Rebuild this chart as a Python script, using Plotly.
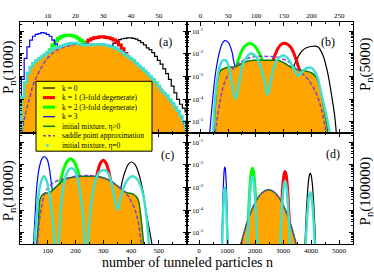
import plotly.graph_objects as go

FONT = "Liberation Serif"

# ---------------- data: log10 of P_n ----------------
# (a) P_n(1000), discrete n (step curves)
a_eta_n = list(range(0, 61))
a_eta_log10p = [-5.33, -3.90, -3.26, -2.84, -2.59, -2.42, -2.29, -2.21, -2.12, -2.04,
                -1.95, -1.87, -1.78, -1.74, -1.70, -1.66, -1.61, -1.57, -1.55, -1.53,
                -1.53, -1.57, -1.59, -1.61, -1.63, -1.61, -1.61, -1.59, -1.59, -1.59,
                -1.59, -1.61, -1.66, -1.70, -1.74, -1.78, -1.87, -1.95, -2.04, -2.12,
                -2.21, -2.29, -2.42, -2.54, -2.63, -2.75, -2.88, -3.01, -3.13, -3.26,
                -3.43, -3.60, -3.73, -3.85, -4.02, -4.19, -4.36, -4.53, -4.74, -4.99, -5.33]
a_k0_n = list(range(24, 61))
a_k0_log10p = [-4.32, -3.90, -3.47, -3.13, -2.84, -2.54, -2.29, -2.04, -1.82, -1.66,
               -1.53, -1.44, -1.38, -1.34, -1.32, -1.30, -1.30, -1.32, -1.36, -1.42,
               -1.51, -1.61, -1.74, -1.82, -1.95, -2.12, -2.29, -2.46, -2.67, -2.88,
               -3.13, -3.43, -3.73, -4.02, -4.23, -4.40, -4.57]
a_k1_n = list(range(14, 48))
a_k1_log10p = [-6.0, -4.82, -4.23, -3.73, -3.26, -2.84, -2.46, -2.12, -1.87, -1.66,
               -1.49, -1.40, -1.34, -1.30, -1.28, -1.25, -1.25, -1.28, -1.30, -1.34,
               -1.40, -1.49, -1.61, -1.78, -1.99, -2.25, -2.54, -2.88, -3.26, -3.68,
               -4.15, -4.66, -5.25, -6.0]
a_k2_n = list(range(5, 35))
a_k2_log10p = [-4.74, -4.11, -3.47, -2.88, -2.42, -2.08, -1.82, -1.61, -1.44, -1.32,
               -1.25, -1.21, -1.19, -1.19, -1.21, -1.25, -1.32, -1.42, -1.53, -1.68,
               -1.87, -2.08, -2.33, -2.63, -2.97, -3.35, -3.77, -4.23, -4.74, -5.33]
a_k3_n = list(range(0, 26))
a_k3_log10p = [-6.0, -3.13, -2.21, -1.70, -1.40, -1.23, -1.15, -1.11, -1.07, -1.09,
               -1.15, -1.23, -1.40, -1.57, -1.82, -2.08, -2.37, -2.67, -2.97, -3.26,
               -3.60, -3.94, -4.32, -4.74, -5.25, -6.0]
a_sp_n = [0.7, 1.8, 3.6, 4.7, 6.2, 8.0, 9.8, 11.6, 13.5, 17.1, 20.7, 24.4, 28.0, 31.6,
          35.3, 38.9, 42.5, 46.2, 49.8, 53.5, 57.1, 58.9, 59.6]
a_sp_log10p = [-5.46, -4.74, -3.90, -3.39, -2.97, -2.54, -2.21, -1.99, -1.82, -1.66, -1.57,
               -1.57, -1.57, -1.61, -1.78, -2.08, -2.46, -2.88, -3.39, -3.94, -4.53, -5.08, -5.46]

# (b) P_n(5000)
b_k0_n = [150, 160, 167, 173, 182, 191, 203, 212, 221, 230, 236, 242, 245, 248]
b_k0_log10p = [-4.11, -3.13, -2.63, -2.29, -1.91, -1.74, -1.67, -1.70, -2.08, -2.92, -3.77, -4.74, -5.50, -6.2]
b_k1_n = [115, 122, 128, 133, 139, 145, 151, 157, 163, 168, 173, 179, 186, 193]
b_k1_log10p = [-3.70, -3.05, -2.55, -2.15, -1.80, -1.60, -1.54, -1.58, -1.72, -1.95, -2.30, -2.75, -3.40, -4.20]
b_k2_n = [50, 55, 60, 65, 70, 76, 82, 89, 96, 102, 108, 114, 120, 126, 132]
b_k2_log10p = [-4.00, -3.50, -3.00, -2.55, -2.15, -1.80, -1.62, -1.55, -1.62, -1.80, -2.08, -2.48, -2.97, -3.57, -4.28]
b_k3_n = [15, 16.8, 21, 27, 33, 39, 44, 50, 57, 60, 63.5, 68, 73, 78, 82]
b_k3_log10p = [-6.0, -5.50, -4.32, -2.91, -2.07, -1.57, -1.42, -1.49, -1.92, -2.33, -2.70, -3.26, -4.11, -5.16, -6.0]
b_eta_n = [23, 24, 27, 30, 36, 45, 57, 66.5, 75.5, 84.6, 97, 109, 121, 133, 145, 157, 166.5,
           176, 188, 200, 209, 215, 221, 227, 230, 231]
b_eta_log10p = [-6.0, -5.50, -4.32, -3.35, -2.75, -2.63, -2.59, -2.54, -2.42, -2.33, -2.29, -2.29,
                -2.29, -2.29, -2.33, -2.50, -2.63, -2.71, -2.75, -2.84, -3.05, -3.47, -4.19,
                -5.03, -5.50, -6.0]
b_sp_n = [25, 27, 36, 45, 57, 69.5, 84.6, 103, 121, 139, 157, 176, 194, 209, 218, 224, 227, 229]
b_sp_log10p = [-6.0, -5.50, -4.02, -3.18, -2.71, -2.42, -2.21, -2.12, -2.12, -2.16, -2.33, -2.71,
               -3.13, -3.77, -4.44, -5.16, -5.50, -6.0]
b_eta0_n = [22, 22.9, 27, 33, 39, 45, 51, 57, 63.5, 69.5, 75.5, 81.7, 90.8, 100, 106, 115, 121,
            127, 133, 142, 151, 160, 170, 176, 182, 191, 200, 209, 218, 227, 233, 235]
b_eta0_log10p = [-6.0, -5.50, -3.90, -2.75, -2.33, -2.29, -2.54, -3.35, -3.98, -3.35, -2.54, -2.21,
                 -1.99, -2.12, -2.42, -3.13, -3.81, -3.18, -2.54, -2.16, -2.08, -2.29, -2.75, -2.97,
                 -2.84, -2.63, -2.63, -2.92, -3.77, -4.74, -5.50, -6.0]

# (c) P_n(10000)
c_k0_n = [330, 338, 354, 370, 378, 390, 402, 414, 426, 442, 454.5, 466.7, 475, 482]
c_k0_log10p = [-5.82, -4.99, -3.63, -2.66, -2.32, -1.99, -1.88, -1.99, -2.32, -3.10, -4.06, -4.91, -5.47, -6.0]
c_k1_n = [240, 255, 270, 280, 290, 300, 310, 320, 330, 345, 360]
c_k1_log10p = [-6.0, -4.36, -2.94, -2.31, -1.93, -1.80, -1.93, -2.31, -2.94, -4.36, -6.0]
c_k2_n = [107, 122, 137, 152, 162, 172, 182, 192, 202, 212, 227, 242, 257]
c_k2_log10p = [-6.0, -4.49, -3.26, -2.42, -2.04, -1.82, -1.74, -1.82, -2.04, -2.42, -3.26, -4.49, -6.0]
c_k3_n = [45, 48.5, 54.5, 60.6, 70, 78.8, 87, 97, 106.7, 112.7, 117.6, 123, 130, 138]
c_k3_log10p = [-6.0, -5.47, -4.20, -2.94, -2.09, -1.74, -1.64, -1.74, -2.23, -2.80, -3.22, -3.81, -4.53, -5.50]
c_eta_n = [58, 60.6, 66.7, 72.7, 84.8, 109, 127, 145.5, 163.6, 194, 242.4, 291, 327, 351.5,
           382, 406, 424, 436, 445, 448]
c_eta_log10p = [-6.0, -5.47, -4.49, -3.50, -3.29, -3.22, -3.01, -2.80, -2.63, -2.54, -2.51, -2.54,
                -2.72, -2.94, -3.22, -3.29, -3.50, -4.35, -5.47, -6.0]
c_sp_n = [60, 63, 70, 78.8, 97, 133, 170, 218, 266.7, 315, 351.5, 388, 412, 428, 436, 440]
c_sp_log10p = [-6.0, -5.47, -4.49, -3.78, -3.08, -2.72, -2.59, -2.49, -2.49, -2.66, -2.94, -3.36,
               -3.92, -4.63, -5.47, -6.0]
c_eta0_n = [50, 52, 60.6, 66.7, 75, 84.8, 94.5, 103, 111.5, 118.8, 124.8, 132, 139.4, 145.5, 155,
            166, 182, 196, 208.5, 218, 228, 232.7, 239, 244.8, 252, 260.6, 272.7, 288.5, 303,
            317.6, 331, 343, 351.5, 361, 373, 388, 406, 424, 440, 452, 460.6, 464, 468]
c_eta0_log10p = [-6.0, -5.47, -4.20, -3.36, -2.80, -2.51, -2.66, -3.08, -3.78, -4.63, -5.47, -7.0,
                 -5.47, -4.20, -3.08, -2.45, -2.16, -2.23, -2.66, -3.36, -4.35, -5.47, -7.0, -5.47,
                 -4.35, -3.36, -2.66, -2.30, -2.23, -2.37, -2.87, -3.64, -3.99, -3.57, -3.01, -2.66,
                 -2.51, -2.66, -3.15, -3.92, -4.91, -5.47, -6.0]

# (d) P_n(100000)
d_k0_n = [3760, 3781, 3793, 3829, 3865, 3901, 3937, 3973, 4009, 4045, 4081, 4117, 4153, 4165, 4186]
d_k0_log10p = [-7.0, -5.62, -5.22, -4.20, -3.40, -2.83, -2.49, -2.37, -2.49, -2.83, -3.40, -4.20, -5.22, -5.62, -7.0]
d_k1_n = [2866, 2892, 2928, 2964, 3000, 3036, 3072, 3108, 3144, 3180, 3216, 3252, 3278]
d_k1_log10p = [-7.0, -5.44, -4.31, -3.43, -2.80, -2.43, -2.30, -2.43, -2.80, -3.43, -4.31, -5.44, -7.0]
d_k2_n = [1700, 1726, 1762, 1798, 1834, 1870, 1906, 1942, 1978, 2014, 2050, 2086, 2112]
d_k2_log10p = [-7.0, -5.49, -4.29, -3.36, -2.70, -2.30, -2.16, -2.30, -2.70, -3.36, -4.29, -5.49, -7.0]
d_k3_n = [795, 812, 830, 848, 866, 884, 902, 920, 938, 956, 974, 992, 1010, 1028, 1045]
d_k3_log10p = [-7.0, -5.51, -4.47, -3.61, -2.95, -2.47, -2.19, -2.09, -2.19, -2.47, -2.95, -3.61, -4.47, -5.51, -7.0]
d_eta_n = [1400, 1503, 1641, 1762, 2002, 2242, 2483, 2723, 2964, 3204, 3324, 3462, 3560]
d_eta_log10p = [-6.0, -5.47, -4.85, -4.38, -3.68, -3.25, -3.11, -3.25, -3.68, -4.38, -4.85, -5.47, -6.0]
d_sp_n = [1400, 1503, 1641, 1762, 2002, 2242, 2483, 2723, 2964, 3204, 3324, 3462, 3560]
d_sp_log10p = [-6.0, -5.47, -4.85, -4.38, -3.68, -3.25, -3.11, -3.25, -3.68, -4.38, -4.85, -5.47, -6.0]
d_eta0_n = [812, 824, 860, 884, 902, 920, 938, 956, 980, 1016, 1028, None,
            1722, 1738, 1762, 1798, 1834, 1870, 1906, 1942, 1978, 2014, 2050, 2074, 2090, None,
            2888, 2904, 2928, 2964, 3000, 3036, 3072, 3108, 3144, 3180, 3216, 3240, 3256, None,
            3797, 3811, 3829, 3865, 3901, 3937, 3973, 4009, 4045, 4081, 4117, 4135, 4149]
d_eta0_log10p = [-8, -5.71, -4.06, -3.39, -3.10, -3.01, -3.10, -3.39, -4.06, -5.71, -8, None,
                 -8, -5.41, -4.64, -3.71, -3.05, -2.65, -2.51, -2.65, -3.05, -3.71, -4.64, -5.41, -8, None,
                 -8, -5.46, -4.73, -3.85, -3.23, -2.85, -2.72, -2.85, -3.23, -3.85, -4.73, -5.46, -8, None,
                 -8, -5.53, -5.04, -4.25, -3.68, -3.33, -3.22, -3.33, -3.68, -4.25, -5.04, -5.53, -8]

legend_labels = ["k = 0", "k = 1 (3-fold degenerate)", "k = 2 (3-fold degenerate)", "k = 3",
                 "initial mixture, \u03b7>0", "saddle point approximation", "initial mixture, \u03b7=0"]
y_tick_exp = [-1, -2, -3, -4, -5]
y_tick_text = ["10<sup>-1</sup>", "10<sup>-2</sup>", "10<sup>-3</sup>", "10<sup>-4</sup>", "10<sup>-5</sup>"]


def lin(vals):
    return [None if v is None else 10.0 ** v for v in vals]


STY = {
    "k0": dict(color="black", width=1.2),
    "k1": dict(color="#ff0000", width=3),
    "k2": dict(color="#00ff00", width=3),
    "k3": dict(color="#0000ff", width=1.2),
    "eta": dict(color="#007f00", width=1.5),
    "sp": dict(color="#7b45c8", width=1.5, dash="4px,2px"),
    "eta0": dict(color="#40e0d0", width=2.5),
}
ORANGE = "#ffa500"

panels = [
    ("x", "y", [("k0", a_k0_n, a_k0_log10p, "hvh"), ("k1", a_k1_n, a_k1_log10p, "hvh"),
                ("k2", a_k2_n, a_k2_log10p, "hvh"), ("k3", a_k3_n, a_k3_log10p, "hvh"),
                ("eta", a_eta_n, a_eta_log10p, "hvh"), ("sp", a_sp_n, a_sp_log10p, "spline"),
                ("eta0", a_eta_n, a_eta_log10p, "hvh")]),
    ("x2", "y2", [("k0", b_k0_n, b_k0_log10p, "spline"), ("k1", b_k1_n, b_k1_log10p, "spline"),
                  ("k2", b_k2_n, b_k2_log10p, "spline"), ("k3", b_k3_n, b_k3_log10p, "spline"),
                  ("eta", b_eta_n, b_eta_log10p, "spline"), ("sp", b_sp_n, b_sp_log10p, "spline"),
                  ("eta0", b_eta0_n, b_eta0_log10p, "spline")]),
    ("x3", "y3", [("k0", c_k0_n, c_k0_log10p, "spline"), ("k1", c_k1_n, c_k1_log10p, "spline"),
                  ("k2", c_k2_n, c_k2_log10p, "spline"), ("k3", c_k3_n, c_k3_log10p, "spline"),
                  ("eta", c_eta_n, c_eta_log10p, "spline"), ("sp", c_sp_n, c_sp_log10p, "spline"),
                  ("eta0", c_eta0_n, c_eta0_log10p, "spline")]),
    ("x4", "y4", [("k0", d_k0_n, d_k0_log10p, "spline"), ("k1", d_k1_n, d_k1_log10p, "spline"),
                  ("k2", d_k2_n, d_k2_log10p, "spline"), ("k3", d_k3_n, d_k3_log10p, "spline"),
                  ("eta", d_eta_n, d_eta_log10p, "spline"), ("sp", d_sp_n, d_sp_log10p, "spline"),
                  ("eta0", d_eta0_n, d_eta0_log10p, "spline")]),
]

fig = go.Figure()
for xa, ya, curves in panels:
    for key, xs, ls, shape in curves:
        kw = dict(x=xs, y=lin(ls), mode="lines", xaxis=xa, yaxis=ya, showlegend=False,
                  connectgaps=False, line=dict(shape=shape, **STY[key]), hoverinfo="skip")
        if key == "eta":
            kw.update(fill="tozeroy", fillcolor=ORANGE)
        fig.add_trace(go.Scatter(**kw))

tickfont = dict(family=FONT, size=7, color="black")
common = dict(showline=True, linecolor="black", linewidth=1, mirror="ticks", ticks="inside",
              ticklen=4, tickwidth=1, tickcolor="black", showgrid=False, zeroline=False,
              tickfont=tickfont)


def xax(domain, rng, side, tv, minor_dt, anchor):
    return dict(common, domain=domain, range=rng, side=side, anchor=anchor, tickmode="array",
                tickvals=tv, ticktext=[str(v) for v in tv],
                minor=dict(tickmode="linear", tick0=0, dtick=minor_dt, ticks="inside", ticklen=2,
                           tickcolor="black", showgrid=False))


def yax(domain, anchor):
    return dict(common, domain=domain, type="log", range=[-5.5, -0.6], anchor=anchor, side="left",
                tickmode="array", tickvals=[10.0 ** e for e in y_tick_exp], showticklabels=False,
                minor=dict(ticks="inside", ticklen=2, dtick="D1", tickcolor="black", showgrid=False))


fig.update_layout(
    width=374, height=272, autosize=False,
    margin=dict(l=20, r=21, t=12, b=28, pad=0),
    paper_bgcolor="white", plot_bgcolor="white",
    font=dict(family=FONT, color="black"),
    xaxis=xax([0, 0.5], [0, 60], "top", [10, 20, 30, 40, 50], 5, "y"),
    xaxis2=xax([0.5, 1], [-25, 275], "top", [0, 50, 100, 150, 200, 250], 25, "y2"),
    xaxis3=xax([0, 0.5], [0, 600], "bottom", [100, 200, 300, 400, 500], 50, "y3"),
    xaxis4=xax([0.5, 1], [-450, 5500], "bottom", [0, 1000, 2000, 3000, 4000, 5000], 500, "y4"),
    yaxis=yax([0.5, 1], "x"),
    yaxis2=yax([0.5, 1], "x2"),
    yaxis3=yax([0, 0.5], "x3"),
    yaxis4=yax([0, 0.5], "x4"),
)


def px(x):
    return (x - 20) / 333.0


def py(y):
    return (244 - y) / 232.0


shapes = [dict(type="rect", xref="paper", yref="paper", x0=px(36), x1=px(152), y0=py(147), y1=py(74),
               fillcolor="#ffff00", line=dict(color="black", width=1), layer="above")]
row_y = [81, 91, 101, 111, 121, 131, 141]
keys = ["k0", "k1", "k2", "k3", "eta", "sp"]
for k, yy in zip(keys, row_y):
    st = STY[k]
    ln = dict(color=st["color"], width=st["width"])
    if k == "sp":
        ln["dash"] = "3px,2px"
    shapes.append(dict(type="line", xref="paper", yref="paper", x0=px(43), x1=px(55),
                       y0=py(yy), y1=py(yy), line=ln, layer="above"))
shapes.append(dict(type="circle", xref="paper", yref="paper", x0=px(46), x1=px(49),
                   y0=py(row_y[6] + 1.5), y1=py(row_y[6] - 1.5), fillcolor=STY["eta0"]["color"],
                   line=dict(width=0), layer="above"))

annotations = []
# y tick labels of panels (b) and (d), drawn just inside the plotting area
for xr, yr in [("x2 domain", "y2"), ("x4 domain", "y4")]:
    for e, t in zip(y_tick_exp, y_tick_text):
        annotations.append(dict(text=t, xref=xr, yref=yr, x=0, y=e, xanchor="left",
                                yanchor="middle", xshift=3, showarrow=False, font=tickfont))
for lab, yy in zip(legend_labels, row_y):
    annotations.append(dict(text=lab, xref="paper", yref="paper", x=px(60), y=py(yy),
                            xanchor="left", yanchor="middle", showarrow=False,
                            font=dict(family=FONT, size=7.5, color="black")))
for lab, xx, yy in [("(a)", 165, 33), ("(b)", 328, 33), ("(c)", 167, 151), ("(d)", 333, 150)]:
    annotations.append(dict(text=lab, xref="paper", yref="paper", x=px(xx), y=py(yy),
                            xanchor="center", yanchor="middle", showarrow=False,
                            font=dict(family=FONT, size=12, color="black")))
for lab, xx, yy in [("P<sub>n</sub>(1000)", 9, 59), ("P<sub>n</sub>(10000)", 9, 189),
                    ("P<sub>n</sub>(5000)", 366, 56), ("P<sub>n</sub>(100000)", 366, 188)]:
    annotations.append(dict(text=lab, xref="paper", yref="paper", x=px(xx), y=py(yy),
                            xanchor="center", yanchor="middle", showarrow=False, textangle=-90,
                            font=dict(family=FONT, size=15, color="black")))
annotations.append(dict(text="number of tunneled particles n", xref="paper", yref="paper",
                        x=px(187), y=py(263), xanchor="center", yanchor="middle", showarrow=False,
                        font=dict(family=FONT, size=14, color="black")))

fig.update_layout(shapes=shapes, annotations=annotations)
fig.write_html("out.html", config={"displayModeBar": False, "staticPlot": True},
               post_script="document.body.style.margin='0';document.body.style.padding='0';")
